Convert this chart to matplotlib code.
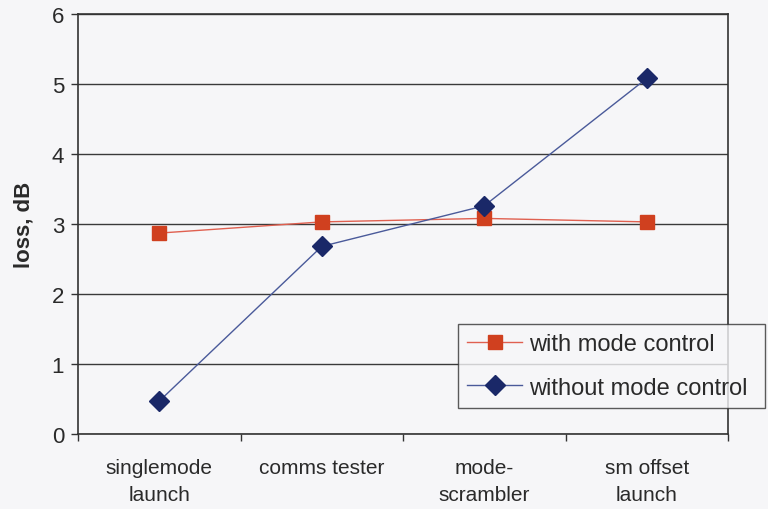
import numpy as np
import matplotlib
matplotlib.use('Agg')
import matplotlib.pyplot as plt
from matplotlib.ticker import FixedLocator, NullFormatter

plt.rcParams['font.family'] = ['Liberation Sans', 'DejaVu Sans']

categories = ['singlemode\nlaunch', 'comms tester', 'mode-\nscrambler', 'sm offset\nlaunch']
with_mode = [2.87, 3.03, 3.08, 3.03]
without_mode = [0.47, 2.68, 3.26, 5.08]

text_col = '#2a2a2a'
bg = '#f6f6f8'

fig = plt.figure(figsize=(7.68, 5.10), dpi=100, facecolor=bg)
ax = fig.add_axes([78 / 768, 1 - 435 / 510, 650 / 768, 420 / 510], facecolor=bg)

x = np.arange(len(categories))
ax.plot(x, with_mode, color='#e06050', lw=1.0, marker='s', ms=10,
        mfc='#d0401f', mec='#d0401f', label='with mode control', zorder=3)
ax.plot(x, without_mode, color='#4a5a9a', lw=1.0, marker='D', ms=10,
        mfc='#1a2868', mec='#1a2868', label='without mode control', zorder=4)

ax.set_xlim(-0.5, len(categories) - 0.5)
ax.set_ylim(0, 6)
ax.set_yticks(range(0, 7))
ax.yaxis.grid(True, color='#3a3a3a', lw=1.0)
ax.set_axisbelow(True)

# ticks sit between categories, labels centred on them
ax.xaxis.set_major_locator(FixedLocator(np.arange(-0.5, len(categories), 1.0)))
ax.xaxis.set_major_formatter(NullFormatter())
ax.xaxis.set_minor_locator(FixedLocator(x))
ax.set_xticklabels(categories, minor=True, linespacing=1.55)
ax.tick_params(axis='x', which='minor', length=0, pad=17,
               labelsize=15, labelcolor=text_col)
ax.tick_params(axis='x', which='major', length=5, width=1, color='#333333')
ax.tick_params(axis='y', length=5, width=1, color='#333333',
               labelsize=16, labelcolor=text_col, pad=5)

for s in ax.spines.values():
    s.set_color('#333333')
    s.set_linewidth(1.2)

ax.set_ylabel('loss, dB', fontsize=16, fontweight='bold', color=text_col, labelpad=12)

leg = ax.legend(loc='lower left',
                bbox_to_anchor=(458 / 768, 1 - 409 / 510, 307 / 768, 90 / 510),
                bbox_transform=fig.transFigure, mode='expand', borderaxespad=0,
                fontsize=17, frameon=True, fancybox=False, handlelength=2.3,
                handletextpad=0.3, labelspacing=0.9, borderpad=0.4,
                labelcolor=text_col)
leg.get_frame().set_edgecolor('#333333')
leg.get_frame().set_facecolor(bg)
leg.get_frame().set_linewidth(1.0)

fig.savefig('out.png', dpi=100, facecolor=bg)
